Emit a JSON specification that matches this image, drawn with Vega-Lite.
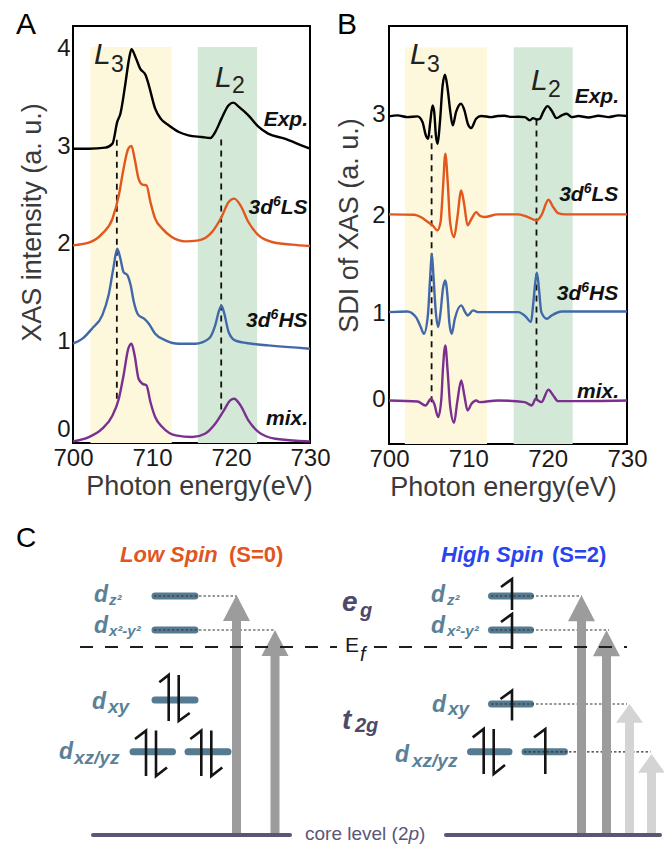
{
"$schema": "https://vega.github.io/schema/vega-lite/v6.json",
"padding": {"left": 14, "top": 8, "right": 0, "bottom": 0},
"autosize": {"type": "pad"},
"background": "white",
"config": {
 "font": "Liberation Sans",
 "view": {"stroke": "#000000", "strokeWidth": 2},
 "axis": {"grid": false, "ticks": false, "tickSize": 0, "domain": false, "labelFont": "Liberation Sans", "labelFontSize": 24, "labelColor": "#1a1a1a", "titleFont": "Liberation Sans", "titleFontSize": 27, "titleFontWeight": "normal", "titleColor": "#3a3a3a", "labelFlush": false, "labelOverlap": false},
 "axisX": {"labelPadding": 3, "titlePadding": 3},
 "axisY": {"labelPadding": 3, "titlePadding": 10}
},
"datasets": {
 "specA": [
  {"s":"Exp","e":700,"v":2.974},{"s":"Exp","e":702,"v":2.974},{"s":"Exp","e":704.1,"v":2.985},{"s":"Exp","e":705,"v":3.026},{"s":"Exp","e":705.6,"v":3.248},{"s":"Exp","e":706,"v":3.333},{"s":"Exp","e":706.6,"v":3.624},{"s":"Exp","e":707.1,"v":3.897},{"s":"Exp","e":707.4,"v":3.993},{"s":"Exp","e":707.9,"v":3.915},{"s":"Exp","e":708.5,"v":3.795},{"s":"Exp","e":709.2,"v":3.727},{"s":"Exp","e":709.6,"v":3.624},{"s":"Exp","e":710.4,"v":3.385},{"s":"Exp","e":711.1,"v":3.282},{"s":"Exp","e":712.1,"v":3.214},{"s":"Exp","e":713.4,"v":3.145},{"s":"Exp","e":714.6,"v":3.111},{"s":"Exp","e":716.3,"v":3.094},{"s":"Exp","e":717.4,"v":3.084},{"s":"Exp","e":718,"v":3.145},{"s":"Exp","e":718.8,"v":3.282},{"s":"Exp","e":719.7,"v":3.419},{"s":"Exp","e":720.3,"v":3.446},{"s":"Exp","e":721,"v":3.402},{"s":"Exp","e":722.2,"v":3.316},{"s":"Exp","e":723.5,"v":3.197},{"s":"Exp","e":724.7,"v":3.128},{"s":"Exp","e":726.8,"v":3.077},{"s":"Exp","e":728.9,"v":3.009},{"s":"Exp","e":730,"v":2.974},
  {"s":"LS","e":700,"v":1.983},{"s":"LS","e":702,"v":2.01},{"s":"LS","e":703.7,"v":2.103},{"s":"LS","e":705,"v":2.256},{"s":"LS","e":705.8,"v":2.496},{"s":"LS","e":706.4,"v":2.769},{"s":"LS","e":707,"v":2.974},{"s":"LS","e":707.4,"v":3.002},{"s":"LS","e":707.8,"v":2.872},{"s":"LS","e":708.3,"v":2.667},{"s":"LS","e":708.8,"v":2.605},{"s":"LS","e":709.3,"v":2.598},{"s":"LS","e":709.8,"v":2.427},{"s":"LS","e":710.4,"v":2.256},{"s":"LS","e":711.3,"v":2.154},{"s":"LS","e":712.5,"v":2.068},{"s":"LS","e":714.2,"v":2.024},{"s":"LS","e":715.9,"v":2.034},{"s":"LS","e":717.6,"v":2.12},{"s":"LS","e":718.8,"v":2.274},{"s":"LS","e":719.7,"v":2.427},{"s":"LS","e":720.4,"v":2.462},{"s":"LS","e":721.2,"v":2.393},{"s":"LS","e":722.2,"v":2.222},{"s":"LS","e":723.5,"v":2.085},{"s":"LS","e":725.2,"v":2.017},{"s":"LS","e":727.7,"v":1.99},{"s":"LS","e":730,"v":1.976},
  {"s":"HS","e":700,"v":0.974},{"s":"HS","e":701.2,"v":1.026},{"s":"HS","e":702.4,"v":1.128},{"s":"HS","e":703.7,"v":1.265},{"s":"HS","e":704.5,"v":1.47},{"s":"HS","e":705.1,"v":1.744},{"s":"HS","e":705.6,"v":1.949},{"s":"HS","e":706,"v":1.846},{"s":"HS","e":706.4,"v":1.709},{"s":"HS","e":706.9,"v":1.675},{"s":"HS","e":707.3,"v":1.573},{"s":"HS","e":707.7,"v":1.402},{"s":"HS","e":708.3,"v":1.265},{"s":"HS","e":709,"v":1.231},{"s":"HS","e":709.6,"v":1.179},{"s":"HS","e":710.4,"v":1.077},{"s":"HS","e":711.7,"v":1.009},{"s":"HS","e":713.4,"v":0.974},{"s":"HS","e":715.5,"v":0.974},{"s":"HS","e":717.2,"v":1.026},{"s":"HS","e":718,"v":1.162},{"s":"HS","e":718.5,"v":1.316},{"s":"HS","e":718.8,"v":1.361},{"s":"HS","e":719.1,"v":1.299},{"s":"HS","e":719.7,"v":1.094},{"s":"HS","e":720.5,"v":1.009},{"s":"HS","e":722.6,"v":0.974},{"s":"HS","e":724.7,"v":0.957},{"s":"HS","e":730,"v":0.923},
  {"s":"mix","e":700,"v":-0.027},{"s":"mix","e":702,"v":0.017},{"s":"mix","e":703.7,"v":0.103},{"s":"mix","e":705,"v":0.239},{"s":"mix","e":705.8,"v":0.41},{"s":"mix","e":706.4,"v":0.65},{"s":"mix","e":707,"v":0.923},{"s":"mix","e":707.4,"v":0.974},{"s":"mix","e":707.8,"v":0.855},{"s":"mix","e":708.3,"v":0.615},{"s":"mix","e":708.8,"v":0.564},{"s":"mix","e":709.3,"v":0.547},{"s":"mix","e":709.8,"v":0.376},{"s":"mix","e":710.4,"v":0.222},{"s":"mix","e":711.3,"v":0.12},{"s":"mix","e":713,"v":0.034},{"s":"mix","e":715.1,"v":0.017},{"s":"mix","e":716.7,"v":0.051},{"s":"mix","e":718,"v":0.154},{"s":"mix","e":719.1,"v":0.291},{"s":"mix","e":719.9,"v":0.393},{"s":"mix","e":720.4,"v":0.41},{"s":"mix","e":721.2,"v":0.342},{"s":"mix","e":722.2,"v":0.188},{"s":"mix","e":723.5,"v":0.068},{"s":"mix","e":725.6,"v":0},{"s":"mix","e":730,"v":-0.027}
 ],
 "specB": [
  {"s":"Exp","e":700,"v":3.0},{"s":"Exp","e":701.06,"v":3.011},{"s":"Exp","e":702.32,"v":2.993},{"s":"Exp","e":703.59,"v":3.0},{"s":"Exp","e":704.22,"v":2.94},{"s":"Exp","e":704.65,"v":2.799},{"s":"Exp","e":704.94,"v":2.764},{"s":"Exp","e":705.2,"v":2.94},{"s":"Exp","e":705.49,"v":3.116},{"s":"Exp","e":705.7,"v":3.046},{"s":"Exp","e":705.91,"v":2.799},{"s":"Exp","e":706.13,"v":2.711},{"s":"Exp","e":706.42,"v":2.94},{"s":"Exp","e":706.76,"v":3.327},{"s":"Exp","e":707.06,"v":3.44},{"s":"Exp","e":707.39,"v":3.292},{"s":"Exp","e":707.73,"v":3.046},{"s":"Exp","e":708.03,"v":2.905},{"s":"Exp","e":708.45,"v":3.046},{"s":"Exp","e":709.08,"v":3.134},{"s":"Exp","e":709.51,"v":3.063},{"s":"Exp","e":709.93,"v":2.923},{"s":"Exp","e":710.35,"v":2.877},{"s":"Exp","e":710.98,"v":2.975},{"s":"Exp","e":711.62,"v":3.004},{"s":"Exp","e":712.89,"v":2.993},{"s":"Exp","e":713.7,"v":3.004},{"s":"Exp","e":714.58,"v":3.007},{"s":"Exp","e":715.4,"v":2.995},{"s":"Exp","e":716.27,"v":2.996},{"s":"Exp","e":717.11,"v":2.993},{"s":"Exp","e":717.74,"v":2.958},{"s":"Exp","e":718.17,"v":2.982},{"s":"Exp","e":718.59,"v":2.968},{"s":"Exp","e":719.01,"v":2.975},{"s":"Exp","e":719.43,"v":3.046},{"s":"Exp","e":719.98,"v":3.109},{"s":"Exp","e":720.49,"v":3.063},{"s":"Exp","e":721.12,"v":2.982},{"s":"Exp","e":721.76,"v":3.011},{"s":"Exp","e":722.39,"v":3.028},{"s":"Exp","e":723.03,"v":2.993},{"s":"Exp","e":723.87,"v":3.004},{"s":"Exp","e":725.14,"v":2.989},{"s":"Exp","e":726.41,"v":3.007},{"s":"Exp","e":727.67,"v":2.993},{"s":"Exp","e":728.94,"v":3.011},{"s":"Exp","e":730,"v":3.004},
  {"s":"LS","e":700,"v":1.965},{"s":"LS","e":703.2,"v":1.961},{"s":"LS","e":704,"v":1.937},{"s":"LS","e":704.9,"v":1.884},{"s":"LS","e":705.5,"v":1.849},{"s":"LS","e":706.1,"v":1.796},{"s":"LS","e":706.5,"v":1.884},{"s":"LS","e":706.8,"v":2.236},{"s":"LS","e":707.1,"v":2.606},{"s":"LS","e":707.4,"v":2.306},{"s":"LS","e":707.7,"v":1.884},{"s":"LS","e":708.2,"v":1.725},{"s":"LS","e":708.6,"v":1.919},{"s":"LS","e":709.1,"v":2.218},{"s":"LS","e":709.5,"v":2.06},{"s":"LS","e":709.9,"v":1.849},{"s":"LS","e":710.4,"v":1.919},{"s":"LS","e":711,"v":1.989},{"s":"LS","e":711.4,"v":1.954},{"s":"LS","e":712,"v":1.937},{"s":"LS","e":713.7,"v":1.965},{"s":"LS","e":716.3,"v":1.965},{"s":"LS","e":717.5,"v":1.937},{"s":"LS","e":718.6,"v":1.901},{"s":"LS","e":719.2,"v":1.954},{"s":"LS","e":720.1,"v":2.12},{"s":"LS","e":720.7,"v":2.042},{"s":"LS","e":721.3,"v":1.979},{"s":"LS","e":722.2,"v":1.965},{"s":"LS","e":730,"v":1.965},
  {"s":"HS","e":700,"v":0.933},{"s":"HS","e":702.3,"v":0.94},{"s":"HS","e":703.4,"v":0.88},{"s":"HS","e":704,"v":0.775},{"s":"HS","e":704.4,"v":0.704},{"s":"HS","e":704.9,"v":0.898},{"s":"HS","e":705.2,"v":1.32},{"s":"HS","e":705.4,"v":1.549},{"s":"HS","e":705.6,"v":1.32},{"s":"HS","e":705.9,"v":0.933},{"s":"HS","e":706.2,"v":0.775},{"s":"HS","e":706.5,"v":0.933},{"s":"HS","e":706.8,"v":1.18},{"s":"HS","e":707.1,"v":1.268},{"s":"HS","e":707.4,"v":1.074},{"s":"HS","e":707.6,"v":0.827},{"s":"HS","e":707.9,"v":0.704},{"s":"HS","e":708.3,"v":0.863},{"s":"HS","e":709.1,"v":1.004},{"s":"HS","e":709.6,"v":0.933},{"s":"HS","e":709.9,"v":0.898},{"s":"HS","e":710.6,"v":0.951},{"s":"HS","e":711.2,"v":0.933},{"s":"HS","e":716.3,"v":0.933},{"s":"HS","e":717.3,"v":0.88},{"s":"HS","e":717.9,"v":0.827},{"s":"HS","e":718.2,"v":1.039},{"s":"HS","e":718.5,"v":1.285},{"s":"HS","e":718.65,"v":1.349},{"s":"HS","e":718.9,"v":1.18},{"s":"HS","e":719.2,"v":0.933},{"s":"HS","e":719.9,"v":0.863},{"s":"HS","e":720.5,"v":0.898},{"s":"HS","e":721.8,"v":0.94},{"s":"HS","e":730,"v":0.94},
  {"s":"mix","e":700,"v":0},{"s":"mix","e":703.6,"v":-0.011},{"s":"mix","e":704.6,"v":-0.053},{"s":"mix","e":705.3,"v":0.018},{"s":"mix","e":705.7,"v":-0.035},{"s":"mix","e":706.2,"v":-0.176},{"s":"mix","e":706.6,"v":0.018},{"s":"mix","e":706.8,"v":0.335},{"s":"mix","e":707.1,"v":0.581},{"s":"mix","e":707.4,"v":0.299},{"s":"mix","e":707.7,"v":-0.053},{"s":"mix","e":708.2,"v":-0.236},{"s":"mix","e":708.6,"v":-0.018},{"s":"mix","e":709.1,"v":0.211},{"s":"mix","e":709.5,"v":0.053},{"s":"mix","e":709.9,"v":-0.106},{"s":"mix","e":710.4,"v":-0.035},{"s":"mix","e":711,"v":0},{"s":"mix","e":711.4,"v":-0.018},{"s":"mix","e":713.7,"v":0},{"s":"mix","e":717.1,"v":-0.018},{"s":"mix","e":718,"v":-0.053},{"s":"mix","e":718.5,"v":0.018},{"s":"mix","e":718.8,"v":0},{"s":"mix","e":719.2,"v":-0.018},{"s":"mix","e":720.1,"v":0.113},{"s":"mix","e":720.7,"v":0.053},{"s":"mix","e":721.3,"v":-0.007},{"s":"mix","e":722.2,"v":-0.007},{"s":"mix","e":730,"v":0}
 ]
},
"spacing": 18,
"vconcat": [
 {
  "hconcat": [
   {
    "width": 237, "height": 417,
    "encoding": {
     "x": {"field":"e","type":"quantitative","scale":{"domain":[700,730],"nice":false,"zero":false},"axis":{"title":"Photon energy(eV)","values":[700,710,720,730],"titleX":126}},
     "y": {"field":"v","type":"quantitative","scale":{"domain":[-0.044,4.232],"nice":false,"zero":false},"axis":{"title":"XAS intensity (a. u.)","values":[0.09,1,2,3,4],"labelExpr":"'' + round(datum.value)","titleY":196}}
    },
    "layer": [
     {"data": {"values": [{"band":"L3","e":702.2,"e2":712.5,"v":-0.044,"v2":4.017},{"band":"L2","e":715.8,"e2":723.3,"v":-0.044,"v2":4.017}]},
      "mark": {"type":"rect","strokeWidth":0},
      "encoding": {"x2": {"field":"e2"}, "y2": {"field":"v2"},
       "fill": {"field":"band","type":"nominal","scale":{"domain":["L3","L2"],"range":["#fdf8dc","#d3e8d6"]},"legend":null}}},
     {"data": {"values": [{"e":705.55,"v":0.41,"v2":3.11},{"e":718.76,"v":0.3,"v2":3.09}]},
      "mark": {"type":"rule","strokeDash":[6,5],"strokeWidth":1.8,"color":"#111111"},
      "encoding": {"y2":{"field":"v2"}}},
     {"data": {"name":"specA"},
      "mark": {"type":"line","interpolate":"monotone","strokeWidth":2.4},
      "encoding": {"stroke":{"field":"s","type":"nominal","scale":{"domain":["Exp","LS","HS","mix"],"range":["#000000","#e2571e","#4168a9","#7b2f8f"]},"legend":null}}},
     {"data": {"values": [{"t":"Exp.","e":729.75,"v":3.207},{"t":"LS","e":729.7,"v":2.302},{"t":"HS","e":729.7,"v":1.145},{"t":"mix.","e":729.75,"v":0.14},{"t":"3d","e":725.32,"v":2.302},{"t":"3d","e":725.01,"v":1.145}]},
      "mark": {"type":"text","align":"right","baseline":"alphabetic","font":"Liberation Sans","fontSize":21,"fontWeight":"bold","fontStyle":"italic","color":"#111111"},
      "encoding": {"text":{"field":"t"}}},
     {"data": {"values": [{"t":"6","e":726.3,"v":2.384},{"t":"6","e":726.0,"v":1.227}]},
      "mark": {"type":"text","align":"right","baseline":"alphabetic","font":"Liberation Sans","fontSize":14,"fontWeight":"bold","fontStyle":"italic","color":"#111111"},
      "encoding": {"text":{"field":"t"}}},
     {"data": {"values": [{"t":"L","e":702.66,"v":3.843},{"t":"L","e":717.97,"v":3.607}]},
      "mark": {"type":"text","align":"left","baseline":"alphabetic","font":"Liberation Sans","fontSize":30,"fontStyle":"italic","color":"#222222"},
      "encoding": {"text":{"field":"t"}}},
     {"data": {"values": [{"t":"3","e":704.81,"v":3.761},{"t":"2","e":720.13,"v":3.545}]},
      "mark": {"type":"text","align":"left","baseline":"alphabetic","font":"Liberation Sans","fontSize":23,"color":"#222222"},
      "encoding": {"text":{"field":"t"}}},
     {"data": {"values": [{"t":"A","e":692.78,"v":4.396}]},
      "mark": {"type":"text","align":"left","baseline":"top","font":"Liberation Sans","fontSize":30,"color":"#000000"},
      "encoding": {"text":{"field":"t"}}}
    ]
   },
   {
    "width": 238, "height": 418,
    "encoding": {
     "x": {"field":"e","type":"quantitative","scale":{"domain":[700,730],"nice":false,"zero":false},"axis":{"title":"Photon energy(eV)","values":[700,710,720,730],"titleX":114}},
     "y": {"field":"v","type":"quantitative","scale":{"domain":[-0.46,3.955],"nice":false,"zero":false},"axis":{"title":"SDI of XAS (a. u.)","values":[0.01,0.915,1.955,3.02],"labelExpr":"'' + round(datum.value)","titleY":199,"labelPadding":4,"titlePadding":8}}
    },
    "layer": [
     {"data": {"values": [{"band":"L3","e":702.0,"e2":712.35,"v":-0.46,"v2":3.73},{"band":"L2","e":715.72,"e2":723.15,"v":-0.46,"v2":3.73}]},
      "mark": {"type":"rect","strokeWidth":0},
      "encoding": {"x2": {"field":"e2"}, "y2": {"field":"v2"},
       "fill": {"field":"band","type":"nominal","scale":{"domain":["L3","L2"],"range":["#fdf8dc","#d3e8d6"]},"legend":null}}},
     {"data": {"values": [{"e":705.37,"v":-0.02,"v2":2.8},{"e":718.59,"v":0.0,"v2":2.975}]},
      "mark": {"type":"rule","strokeDash":[6,5],"strokeWidth":1.8,"color":"#111111"},
      "encoding": {"y2":{"field":"v2"}}},
     {"data": {"name":"specB"},
      "mark": {"type":"line","interpolate":"monotone","strokeWidth":2.4},
      "encoding": {"stroke":{"field":"s","type":"nominal","scale":{"domain":["Exp","LS","HS","mix"],"range":["#000000","#e2571e","#4168a9","#7b2f8f"]},"legend":null}}},
     {"data": {"values": [{"t":"Exp.","e":728.99,"v":3.141},{"t":"LS","e":728.9,"v":2.104},{"t":"HS","e":728.9,"v":1.06},{"t":"mix.","e":728.99,"v":0.025},{"t":"3d","e":724.54,"v":2.104},{"t":"3d","e":724.24,"v":1.06}]},
      "mark": {"type":"text","align":"right","baseline":"alphabetic","font":"Liberation Sans","fontSize":21,"fontWeight":"bold","fontStyle":"italic","color":"#111111"},
      "encoding": {"text":{"field":"t"}}},
     {"data": {"values": [{"t":"6","e":725.53,"v":2.189},{"t":"6","e":725.22,"v":1.145}]},
      "mark": {"type":"text","align":"right","baseline":"alphabetic","font":"Liberation Sans","fontSize":14,"fontWeight":"bold","fontStyle":"italic","color":"#111111"},
      "encoding": {"text":{"field":"t"}}},
     {"data": {"values": [{"t":"L","e":702.65,"v":3.553},{"t":"L","e":717.9,"v":3.278}]},
      "mark": {"type":"text","align":"left","baseline":"alphabetic","font":"Liberation Sans","fontSize":30,"fontStyle":"italic","color":"#222222"},
      "encoding": {"text":{"field":"t"}}},
     {"data": {"values": [{"t":"3","e":704.79,"v":3.468},{"t":"2","e":720.04,"v":3.204}]},
      "mark": {"type":"text","align":"left","baseline":"alphabetic","font":"Liberation Sans","fontSize":23,"color":"#222222"},
      "encoding": {"text":{"field":"t"}}},
     {"data": {"values": [{"t":"B","e":693.45,"v":4.124}]},
      "mark": {"type":"text","align":"left","baseline":"top","font":"Liberation Sans","fontSize":30,"color":"#000000"},
      "encoding": {"text":{"field":"t"}}}
    ]
   }
  ],
  "spacing": 79,
  "bounds": "flush"
 },
 {
  "width": 588, "height": 324,
  "view": {"stroke": null, "fill": "transparent"},
  "resolve": {"scale": {"color": "independent", "fill": "independent", "stroke": "independent"}},
  "encoding": {
   "x": {"field":"x","type":"quantitative","scale":{"domain":[11.4,129],"nice":false,"zero":false},"axis":null},
   "y": {"field":"y","type":"quantitative","scale":{"domain":[0,81],"nice":false,"zero":false},"axis":null}
  },
  "layer": [
   {"data": {"values": [{"x":27.8,"x2":35.8,"y":61.75},{"x":27.8,"x2":35.8,"y":53.25},{"x":27.8,"x2":35.8,"y":35.75},{"x":23.4,"x2":31.3,"y":22.8},{"x":34.4,"x2":42.4,"y":22.8},{"x":95.1,"x2":102.9,"y":61.75},{"x":95.1,"x2":102.9,"y":53.25},{"x":95.1,"x2":102.9,"y":34.75},{"x":90.9,"x2":98.6,"y":22.8},{"x":101.8,"x2":109.7,"y":22.8}]},
    "mark": {"type":"rule","strokeWidth":7,"strokeCap":"round","color":"#557b90"},
    "encoding": {"x2":{"field":"x2"}}},
   {"data": {"values": [{"x":27.6,"x2":44.1,"y":61.75},{"x":27.6,"x2":51.8,"y":53.25},{"x":95,"x2":113.1,"y":61.75},{"x":95,"x2":118.6,"y":53.25},{"x":95,"x2":122.2,"y":34.75},{"x":101.6,"x2":126.9,"y":22.8}]},
    "mark": {"type":"rule","strokeWidth":1.2,"strokeDash":[2.5,2],"color":"#333333"},
    "encoding": {"x2":{"field":"x2"}}},
   {"data": {"values": [{"x":44.1,"y":2.5,"y2":56,"tone":"dark"},{"x":51.8,"y":2.5,"y2":47.5,"tone":"dark"},{"x":113.1,"y":2.5,"y2":56,"tone":"dark"},{"x":118.1,"y":2.5,"y2":47.5,"tone":"dark"},{"x":122.7,"y":2.5,"y2":30.5,"tone":"light"},{"x":127.1,"y":2.5,"y2":18,"tone":"light"}]},
    "mark": {"type":"rule","strokeWidth":9,"strokeCap":"butt"},
    "encoding": {"y2":{"field":"y2"},
     "stroke":{"field":"tone","type":"nominal","scale":{"domain":["dark","light"],"range":["#9c9c9c","#d4d4d4"]},"legend":null}}},
   {"data": {"values": [{"x":44.1,"y":58.75,"tone":"dark"},{"x":51.8,"y":50,"tone":"dark"},{"x":113.1,"y":58.7,"tone":"dark"},{"x":118.1,"y":49.95,"tone":"dark"}]},
    "mark": {"type":"point","shape":"M-1,0.96L0,-0.96L1,0.96Z","size":729,"filled":true,"opacity":1,"strokeWidth":0},
    "encoding": {"fill":{"field":"tone","type":"nominal","scale":{"domain":["dark","light"],"range":["#9c9c9c","#d4d4d4"]},"legend":null}}},
   {"data": {"values": [{"x":122.7,"y":32.4,"tone":"light"},{"x":127.1,"y":19.9,"tone":"light"}]},
    "mark": {"type":"point","shape":"M-1,0.7L0,-0.7L1,0.7Z","size":729,"filled":true,"opacity":1,"strokeWidth":0},
    "encoding": {"fill":{"field":"tone","type":"nominal","scale":{"domain":["dark","light"],"range":["#9c9c9c","#d4d4d4"]},"legend":null}}},
   {"data": {"values": [{"x":15.4,"x2":54.8,"y":2},{"x":86,"x2":128.8,"y":2}]},
    "mark": {"type":"rule","strokeWidth":4,"strokeCap":"round","color":"#5b5577"},
    "encoding": {"x2":{"field":"x2"}}},
   {"data": {"values": [{"x":12.8,"x2":64.2,"y":49},{"x":71.6,"x2":122.2,"y":49}]},
    "mark": {"type":"rule","strokeWidth":2,"strokeDash":[13,12],"color":"#1e1e1e"},
    "encoding": {"x2":{"field":"x2"}}},
   {"data": {"values": [
     {"h":"L1","o":1,"x":28.66,"y":40.18},{"h":"L1","o":2,"x":30.54,"y":42},{"h":"L1","o":3,"x":30.54,"y":30.5},
     {"h":"L2","o":1,"x":32.54,"y":42},{"h":"L2","o":2,"x":32.54,"y":30.5},{"h":"L2","o":3,"x":34.74,"y":32.5},
     {"h":"L3","o":1,"x":23.8,"y":26},{"h":"L3","o":2,"x":26,"y":28.1},{"h":"L3","o":3,"x":26,"y":16.75},
     {"h":"L4","o":1,"x":28,"y":28.1},{"h":"L4","o":2,"x":28,"y":16.75},{"h":"L4","o":3,"x":30.2,"y":18.9},
     {"h":"L5","o":1,"x":34.86,"y":26},{"h":"L5","o":2,"x":37.06,"y":28.1},{"h":"L5","o":3,"x":37.06,"y":16.75},
     {"h":"L6","o":1,"x":39.06,"y":28.1},{"h":"L6","o":2,"x":39.06,"y":16.75},{"h":"L6","o":3,"x":41.26,"y":18.9},
     {"h":"H1","o":1,"x":97,"y":64},{"h":"H1","o":2,"x":99.2,"y":66},{"h":"H1","o":3,"x":99.2,"y":58.25},
     {"h":"H2","o":1,"x":97,"y":55.25},{"h":"H2","o":2,"x":99.2,"y":57.25},{"h":"H2","o":3,"x":99.2,"y":48.5},
     {"h":"H3","o":1,"x":96.9,"y":36},{"h":"H3","o":2,"x":99.2,"y":38.1},{"h":"H3","o":3,"x":99.2,"y":30.6},
     {"h":"H4","o":1,"x":91.34,"y":26.4},{"h":"H4","o":2,"x":93.54,"y":28.5},{"h":"H4","o":3,"x":93.54,"y":17.25},
     {"h":"H5","o":1,"x":95.54,"y":28.5},{"h":"H5","o":2,"x":95.54,"y":17.25},{"h":"H5","o":3,"x":97.8,"y":19.5},
     {"h":"H6","o":1,"x":103.6,"y":26.4},{"h":"H6","o":2,"x":105.86,"y":28.5},{"h":"H6","o":3,"x":105.86,"y":17.25}
    ]},
    "mark": {"type":"line","strokeWidth":2.6,"color":"#141414","strokeJoin":"miter","strokeCap":"butt"},
    "encoding": {"detail":{"field":"h","type":"nominal"},"order":{"field":"o","type":"quantitative"}}},
   {"data": {"values": [{"t":"C","x":0,"y":74}]},
    "mark": {"type":"text","align":"left","baseline":"alphabetic","font":"Liberation Sans","fontSize":28,"color":"#000000"},
    "encoding": {"text":{"field":"t"}}},
   {"data": {"values": [{"t":"Low Spin","spin":"low","x":20.8,"y":70.25},{"t":"High Spin","spin":"high","x":85,"y":70.25}]},
    "mark": {"type":"text","align":"left","baseline":"alphabetic","font":"Liberation Sans","fontSize":22,"fontWeight":"bold","fontStyle":"italic"},
    "encoding": {"text":{"field":"t"},
     "color":{"field":"spin","type":"nominal","scale":{"domain":["low","high"],"range":["#e0561e","#2a43f0"]},"legend":null}}},
   {"data": {"values": [{"t":"(S=0)","spin":"low","x":42.6,"y":70.25},{"t":"(S=2)","spin":"high","x":107.2,"y":70.25}]},
    "mark": {"type":"text","align":"left","baseline":"alphabetic","font":"Liberation Sans","fontSize":22,"fontWeight":"bold"},
    "encoding": {"text":{"field":"t"},
     "color":{"field":"spin","type":"nominal","scale":{"domain":["low","high"],"range":["#e0561e","#2a43f0"]},"legend":null}}},
   {"data": {"values": [{"t":"d","x":15.6,"y":60.25},{"t":"d","x":15.6,"y":52.5},{"t":"d","x":15.2,"y":33.5},{"t":"d","x":8.6,"y":21},{"t":"d","x":83,"y":60.25},{"t":"d","x":83,"y":52.5},{"t":"d","x":83.2,"y":32.75},{"t":"d","x":75.8,"y":20.25}]},
    "mark": {"type":"text","align":"left","baseline":"alphabetic","font":"Liberation Sans","fontSize":23,"fontWeight":"bold","fontStyle":"italic","color":"#5a8197"},
    "encoding": {"text":{"field":"t"}}},
   {"data": {"values": [{"t":"z²","x":18.6,"y":59.5},{"t":"x²-y²","x":18.6,"y":51.75},{"t":"z²","x":86.2,"y":59.5},{"t":"x²-y²","x":86.2,"y":51.75}]},
    "mark": {"type":"text","align":"left","baseline":"alphabetic","font":"Liberation Sans","fontSize":15,"fontWeight":"bold","fontStyle":"italic","color":"#5a8197"},
    "encoding": {"text":{"field":"t"}}},
   {"data": {"values": [{"t":"xy","x":18.4,"y":32.5},{"t":"xz/yz","x":11.6,"y":19.75},{"t":"xy","x":86.4,"y":32},{"t":"xz/yz","x":79.2,"y":19}]},
    "mark": {"type":"text","align":"left","baseline":"alphabetic","font":"Liberation Sans","fontSize":19,"fontWeight":"bold","fontStyle":"italic","color":"#5a8197"},
    "encoding": {"text":{"field":"t"}}},
   {"data": {"values": [{"t":"e","x":65.2,"y":58},{"t":"t","x":65.2,"y":28.5}]},
    "mark": {"type":"text","align":"left","baseline":"alphabetic","font":"Liberation Sans","fontSize":28,"fontWeight":"bold","fontStyle":"italic","color":"#4e4869"},
    "encoding": {"text":{"field":"t"}}},
   {"data": {"values": [{"t":"g","x":68.8,"y":56.5},{"t":"2g","x":67.8,"y":27.75}]},
    "mark": {"type":"text","align":"left","baseline":"alphabetic","font":"Liberation Sans","fontSize":20,"fontWeight":"bold","fontStyle":"italic","color":"#4e4869"},
    "encoding": {"text":{"field":"t"}}},
   {"data": {"values": [{"t":"E","x":65.8,"y":47.75}]},
    "mark": {"type":"text","align":"left","baseline":"alphabetic","font":"Liberation Sans","fontSize":21,"color":"#1a1a1a"},
    "encoding": {"text":{"field":"t"}}},
   {"data": {"values": [{"t":"f","x":68.8,"y":45.5}]},
    "mark": {"type":"text","align":"left","baseline":"alphabetic","font":"Liberation Sans","fontSize":20,"fontStyle":"italic","color":"#1a1a1a"},
    "encoding": {"text":{"field":"t"}}},
   {"data": {"values": [{"t":"core level (2","x":57.8,"y":0.75},{"t":")","x":80.6,"y":0.75}]},
    "mark": {"type":"text","align":"left","baseline":"alphabetic","font":"Liberation Sans","fontSize":19,"color":"#5b5577"},
    "encoding": {"text":{"field":"t"}}},
   {"data": {"values": [{"t":"p","x":78.5,"y":0.75}]},
    "mark": {"type":"text","align":"left","baseline":"alphabetic","font":"Liberation Sans","fontSize":19,"fontStyle":"italic","color":"#5b5577"},
    "encoding": {"text":{"field":"t"}}}
  ]
 }
]
}
